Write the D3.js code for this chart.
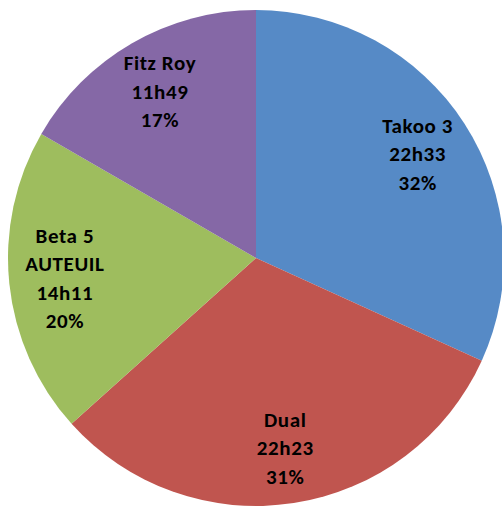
<!DOCTYPE html>
<html><head><meta charset="utf-8">
<script src="https://cdn.jsdelivr.net/npm/d3@7"></script>
<style>html,body{margin:0;padding:0;background:#fff;}</style>
</head><body>
<svg id="chart" width="502" height="508"></svg>
<script>
const categories = ["Takoo 3", "Dual", "Beta 5\nAUTEUIL", "Fitz Roy"];
const durations = ["22h33", "22h23", "14h11", "11h49"];
const minutes = [1353, 1343, 851, 709];
const percentLabels = ["32%", "31%", "20%", "17%"];
const colors = ["#568AC6", "#C0554F", "#9EBD5E", "#8568A6"];

const svg = d3.select("#chart");
const cx = 256, cy = 258, R = 248;
const g = svg.append("g").attr("transform", `translate(${cx},${cy})`);
const data = categories.map((c, i) => ({name: c, dur: durations[i], value: minutes[i], pct: percentLabels[i], color: colors[i]}));
const pie = d3.pie().value(d => d.value).sort(null);
const arcs = pie(data);
const arc = d3.arc().innerRadius(0).outerRadius(R);
g.selectAll("path").data(arcs).join("path")
  .attr("d", arc).attr("fill", d => d.data.color);

const labelArc = d3.arc().innerRadius(R * 0.775).outerRadius(R * 0.775);
const lh = 28.5;
arcs.forEach(a => {
  const [x, y] = labelArc.centroid(a);
  const lines = a.data.name.split("\n").concat([a.data.dur, a.data.pct]);
  const t = g.append("text")
    .attr("text-anchor", "middle")
    .attr("font-family", "Carlito, Calibri, Lato, sans-serif")
    .attr("font-weight", "bold")
    .attr("font-size", 21)
    .attr("letter-spacing", "0.6px")
    .attr("fill", "#000");
  lines.forEach((l, i) => {
    t.append("tspan").attr("x", x)
      .attr("y", y + (i - (lines.length - 1) / 2) * lh)
      .attr("dy", "0.35em").text(l);
  });
});
</script>
</body></html>
